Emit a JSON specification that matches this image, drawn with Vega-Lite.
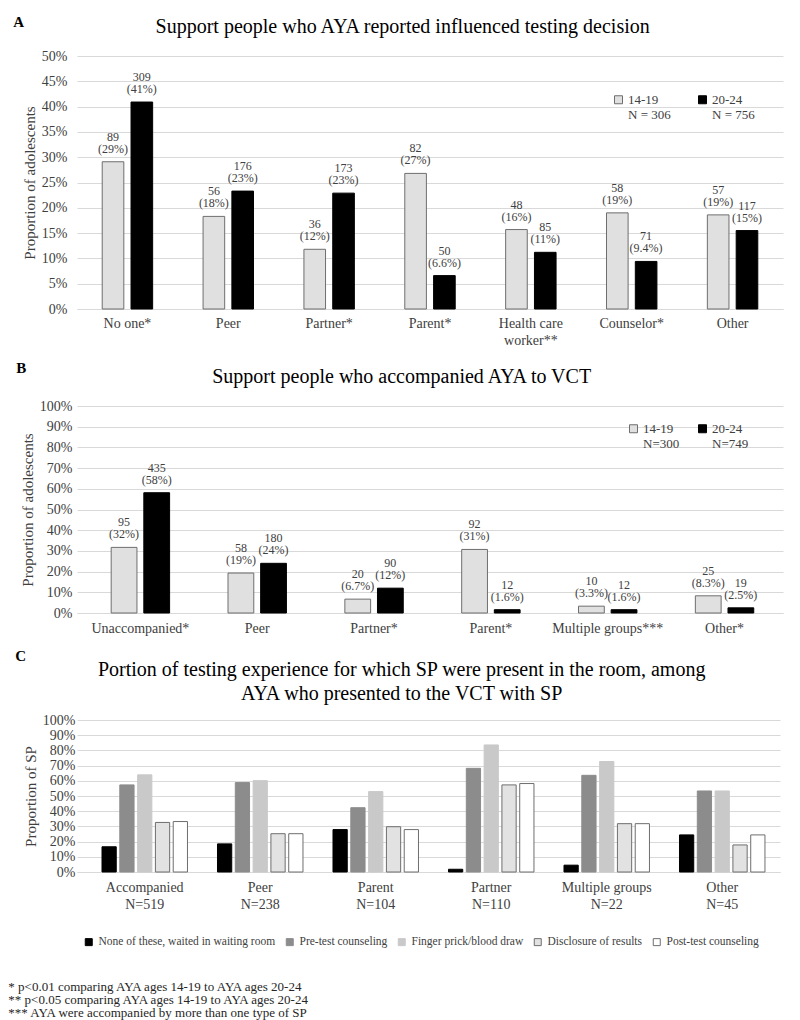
{
  "$schema": "https://vega.github.io/schema/vega-lite/v6.json",
  "padding": {"left": 8, "top": 15, "right": 10, "bottom": 5},
  "background": "white",
  "config": {
    "font": "Liberation Serif",
    "view": {"stroke": null},
    "axis": {"labelFont": "Liberation Serif", "titleFont": "Liberation Serif", "labelColor": "#404040", "titleColor": "#404040", "titleFontWeight": "normal", "gridColor": "#d9d9d9", "domainColor": "#d9d9d9", "ticks": false},
    "legend": {"labelFont": "Liberation Serif", "labelColor": "#404040"},
    "title": {"font": "Liberation Serif", "fontWeight": "normal", "color": "#000000"},
    "text": {"font": "Liberation Serif"}
  },
  "title": {
    "text": ["* p<0.01 comparing AYA ages 14-19 to AYA ages 20-24", "** p<0.05 comparing AYA ages 14-19 to AYA ages 20-24", "*** AYA were accompanied by more than one type of SP"],
    "orient": "bottom", "anchor": "start", "frame": "bounds", "fontSize": 13, "lineHeight": 13, "offset": 33, "dx": -5, "color": "#262626"
  },
  "columns": 1,
  "spacing": 14,
  "resolve": {"scale": {"fill": "independent", "stroke": "independent", "xOffset": "independent"}, "legend": {"fill": "independent", "stroke": "independent"}},
  "concat": [
    {
      "title": {"text": "A", "anchor": "start", "frame": "bounds", "fontWeight": "bold", "fontSize": 15, "offset": -13, "dx": -9},
      "vconcat": [
        {
          "width": 706,
          "height": 253,
          "title": {"text": "Support people who AYA reported influenced testing decision", "fontSize": 20, "anchor": "middle", "frame": "bounds", "offset": 12},
          "data": {"values": [
            {"cat": "No one*", "age": "14-19", "pct": 0.291, "lab": "89\n(29%)"},
            {"cat": "No one*", "age": "20-24", "pct": 0.409, "lab": "309\n(41%)"},
            {"cat": "Peer", "age": "14-19", "pct": 0.183, "lab": "56\n(18%)"},
            {"cat": "Peer", "age": "20-24", "pct": 0.233, "lab": "176\n(23%)"},
            {"cat": "Partner*", "age": "14-19", "pct": 0.118, "lab": "36\n(12%)"},
            {"cat": "Partner*", "age": "20-24", "pct": 0.229, "lab": "173\n(23%)"},
            {"cat": "Parent*", "age": "14-19", "pct": 0.268, "lab": "82\n(27%)"},
            {"cat": "Parent*", "age": "20-24", "pct": 0.066, "lab": "50\n(6.6%)"},
            {"cat": "Health care|worker**", "age": "14-19", "pct": 0.157, "lab": "48\n(16%)"},
            {"cat": "Health care|worker**", "age": "20-24", "pct": 0.112, "lab": "85\n(11%)"},
            {"cat": "Counselor*", "age": "14-19", "pct": 0.19, "lab": "58\n(19%)"},
            {"cat": "Counselor*", "age": "20-24", "pct": 0.094, "lab": "71\n(9.4%)"},
            {"cat": "Other", "age": "14-19", "pct": 0.186, "lab": "57\n(19%)"},
            {"cat": "Other", "age": "20-24", "pct": 0.155, "lab": "117\n(15%)"}
          ]},
          "encoding": {
            "x": {"field": "cat", "type": "nominal", "sort": null, "title": null, "scale": {"paddingInner": 0.5, "paddingOuter": 0.25},
                  "axis": {"labelAngle": 0, "labelFontSize": 14, "labelPadding": 7, "labelExpr": "split(datum.label, '|')", "labelLineHeight": 17}},
            "xOffset": {"field": "age", "type": "nominal", "scale": {"paddingInner": 0.25, "paddingOuter": 0}},
            "y": {"field": "pct", "type": "quantitative", "title": "Proportion of adolescents", "scale": {"domain": [0, 0.5]},
                  "axis": {"values": [0, 0.05, 0.1, 0.15, 0.2, 0.25, 0.3, 0.35, 0.4, 0.45, 0.5], "format": ".0%", "labelFontSize": 14, "labelPadding": 10, "domain": false, "titleFontSize": 15, "titlePadding": 4, "labelOverlap": false}}
          },
          "layer": [
            {
              "mark": {"type": "bar", "strokeWidth": 1},
              "encoding": {
                "fill": {"field": "age", "type": "nominal", "scale": {"domain": ["14-19", "20-24"], "range": ["#e0e0e0", "#000000"]},
                         "legend": {"title": null, "orient": "none", "legendX": 535, "legendY": 37, "direction": "horizontal", "columns": 2, "symbolType": "square", "symbolSize": 64, "labelFontSize": 13, "columnPadding": 25, "labelOffset": 3, "symbolStrokeColor": "#767676", "symbolStrokeWidth": 1,
                                    "labelExpr": "datum.label == '14-19' ? ['14-19', 'N = 306'] : ['20-24', 'N = 756']"}},
                "stroke": {"field": "age", "type": "nominal", "scale": {"domain": ["14-19", "20-24"], "range": ["#6e6e6e", "#000000"]}, "legend": null}
              }
            },
            {
              "mark": {"type": "text", "baseline": "bottom", "dy": -18, "fontSize": 12, "lineHeight": 12, "lineBreak": "\n", "color": "#404040"},
              "encoding": {"text": {"field": "lab"}}
            }
          ]
        }
      ]
    },
    {
      "title": {"text": "B", "anchor": "start", "frame": "bounds", "fontWeight": "bold", "fontSize": 15, "offset": -9, "dx": -4},
      "vconcat": [
        {
          "width": 706,
          "height": 207,
          "title": {"text": "Support people who accompanied AYA to VCT", "fontSize": 20, "anchor": "middle", "frame": "bounds", "offset": 12},
          "data": {"values": [
            {"cat": "Unaccompanied*", "age": "14-19", "pct": 0.317, "lab": "95\n(32%)"},
            {"cat": "Unaccompanied*", "age": "20-24", "pct": 0.581, "lab": "435\n(58%)"},
            {"cat": "Peer", "age": "14-19", "pct": 0.193, "lab": "58\n(19%)"},
            {"cat": "Peer", "age": "20-24", "pct": 0.24, "lab": "180\n(24%)"},
            {"cat": "Partner*", "age": "14-19", "pct": 0.067, "lab": "20\n(6.7%)"},
            {"cat": "Partner*", "age": "20-24", "pct": 0.12, "lab": "90\n(12%)"},
            {"cat": "Parent*", "age": "14-19", "pct": 0.307, "lab": "92\n(31%)"},
            {"cat": "Parent*", "age": "20-24", "pct": 0.016, "lab": "12\n(1.6%)"},
            {"cat": "Multiple groups***", "age": "14-19", "pct": 0.033, "lab": "10\n(3.3%)"},
            {"cat": "Multiple groups***", "age": "20-24", "pct": 0.016, "lab": "12\n(1.6%)"},
            {"cat": "Other*", "age": "14-19", "pct": 0.083, "lab": "25\n(8.3%)"},
            {"cat": "Other*", "age": "20-24", "pct": 0.025, "lab": "19\n(2.5%)"}
          ]},
          "encoding": {
            "x": {"field": "cat", "type": "nominal", "sort": null, "title": null, "scale": {"paddingInner": 0.5, "paddingOuter": 0.2714, "align": 0.539},
                  "axis": {"labelAngle": 0, "labelFontSize": 14, "labelPadding": 8}},
            "xOffset": {"field": "age", "type": "nominal", "scale": {"paddingInner": 0.21, "paddingOuter": 0}},
            "y": {"field": "pct", "type": "quantitative", "title": "Proportion of adolescents", "scale": {"domain": [0, 1]},
                  "axis": {"values": [0, 0.1, 0.2, 0.3, 0.4, 0.5, 0.6, 0.7, 0.8, 0.9, 1], "format": ".0%", "labelFontSize": 14, "labelPadding": 5, "domain": false, "titleFontSize": 15, "titlePadding": 4, "labelOverlap": false}}
          },
          "layer": [
            {
              "mark": {"type": "bar", "strokeWidth": 1},
              "encoding": {
                "fill": {"field": "age", "type": "nominal", "scale": {"domain": ["14-19", "20-24"], "range": ["#e0e0e0", "#000000"]},
                         "legend": {"title": null, "orient": "none", "legendX": 550, "legendY": 16, "direction": "horizontal", "columns": 2, "symbolType": "square", "symbolSize": 64, "labelFontSize": 13, "columnPadding": 16, "labelOffset": 3, "symbolStrokeColor": "#767676", "symbolStrokeWidth": 1,
                                    "labelExpr": "datum.label == '14-19' ? ['14-19', 'N=300'] : ['20-24', 'N=749']"}},
                "stroke": {"field": "age", "type": "nominal", "scale": {"domain": ["14-19", "20-24"], "range": ["#6e6e6e", "#000000"]}, "legend": null}
              }
            },
            {
              "mark": {"type": "text", "baseline": "bottom", "dy": -18, "fontSize": 12, "lineHeight": 12, "lineBreak": "\n", "color": "#404040"},
              "encoding": {"text": {"field": "lab"}}
            }
          ]
        }
      ]
    },
    {
      "title": {"text": "C", "anchor": "start", "frame": "bounds", "fontWeight": "bold", "fontSize": 15, "offset": -4, "dx": -8},
      "vconcat": [
        {
          "width": 703,
          "height": 152,
          "title": {"text": ["Portion of testing experience for which SP were present in the room, among", "AYA who presented to the VCT with SP"], "fontSize": 20, "lineHeight": 24, "anchor": "middle", "frame": "bounds", "offset": 9},
          "data": {"values": [
            {"grp": "Accompanied|N=519", "part": "None of these, waited in waiting room", "pct": 0.166},
            {"grp": "Accompanied|N=519", "part": "Pre-test counseling", "pct": 0.573},
            {"grp": "Accompanied|N=519", "part": "Finger prick/blood draw", "pct": 0.639},
            {"grp": "Accompanied|N=519", "part": "Disclosure of results", "pct": 0.326},
            {"grp": "Accompanied|N=519", "part": "Post-test counseling", "pct": 0.332},
            {"grp": "Peer|N=238", "part": "None of these, waited in waiting room", "pct": 0.185},
            {"grp": "Peer|N=238", "part": "Pre-test counseling", "pct": 0.588},
            {"grp": "Peer|N=238", "part": "Finger prick/blood draw", "pct": 0.601},
            {"grp": "Peer|N=238", "part": "Disclosure of results", "pct": 0.252},
            {"grp": "Peer|N=238", "part": "Post-test counseling", "pct": 0.252},
            {"grp": "Parent|N=104", "part": "None of these, waited in waiting room", "pct": 0.279},
            {"grp": "Parent|N=104", "part": "Pre-test counseling", "pct": 0.423},
            {"grp": "Parent|N=104", "part": "Finger prick/blood draw", "pct": 0.529},
            {"grp": "Parent|N=104", "part": "Disclosure of results", "pct": 0.298},
            {"grp": "Parent|N=104", "part": "Post-test counseling", "pct": 0.279},
            {"grp": "Partner|N=110", "part": "None of these, waited in waiting room", "pct": 0.018},
            {"grp": "Partner|N=110", "part": "Pre-test counseling", "pct": 0.682},
            {"grp": "Partner|N=110", "part": "Finger prick/blood draw", "pct": 0.836},
            {"grp": "Partner|N=110", "part": "Disclosure of results", "pct": 0.573},
            {"grp": "Partner|N=110", "part": "Post-test counseling", "pct": 0.582},
            {"grp": "Multiple groups|N=22", "part": "None of these, waited in waiting room", "pct": 0.045},
            {"grp": "Multiple groups|N=22", "part": "Pre-test counseling", "pct": 0.636},
            {"grp": "Multiple groups|N=22", "part": "Finger prick/blood draw", "pct": 0.727},
            {"grp": "Multiple groups|N=22", "part": "Disclosure of results", "pct": 0.318},
            {"grp": "Multiple groups|N=22", "part": "Post-test counseling", "pct": 0.318},
            {"grp": "Other|N=45", "part": "None of these, waited in waiting room", "pct": 0.244},
            {"grp": "Other|N=45", "part": "Pre-test counseling", "pct": 0.533},
            {"grp": "Other|N=45", "part": "Finger prick/blood draw", "pct": 0.533},
            {"grp": "Other|N=45", "part": "Disclosure of results", "pct": 0.178},
            {"grp": "Other|N=45", "part": "Post-test counseling", "pct": 0.244}
          ]},
          "mark": {"type": "bar", "strokeWidth": 1},
          "encoding": {
            "x": {"field": "grp", "type": "nominal", "sort": null, "title": null, "scale": {"paddingInner": 0.26, "paddingOuter": 0.1733, "align": 0.6245},
                  "axis": {"labelAngle": 0, "labelFontSize": 14, "labelPadding": 8, "labelExpr": "split(datum.label, '|')", "labelLineHeight": 17}},
            "xOffset": {"field": "part", "type": "nominal", "sort": null, "scale": {"paddingInner": 0.2, "paddingOuter": 0}},
            "y": {"field": "pct", "type": "quantitative", "title": "Proportion of SP", "scale": {"domain": [0, 1]},
                  "axis": {"values": [0, 0.1, 0.2, 0.3, 0.4, 0.5, 0.6, 0.7, 0.8, 0.9, 1], "format": ".0%", "labelFontSize": 14, "labelPadding": 2, "domain": false, "titleFontSize": 15, "titlePadding": 4, "labelOverlap": false}},
            "fill": {"field": "part", "type": "nominal",
                     "scale": {"domain": ["None of these, waited in waiting room", "Pre-test counseling", "Finger prick/blood draw", "Disclosure of results", "Post-test counseling"], "range": ["#000000", "#8c8c8c", "#c9c9c9", "#e2e2e2", "#ffffff"]},
                     "legend": {"title": null, "orient": "none", "legendX": 6, "legendY": 216, "direction": "horizontal", "symbolType": "square", "symbolSize": 49, "labelFontSize": 11.5, "labelLimit": 400, "columnPadding": 8, "labelOffset": 4, "symbolStrokeWidth": 1}},
            "stroke": {"field": "part", "type": "nominal",
                     "scale": {"domain": ["None of these, waited in waiting room", "Pre-test counseling", "Finger prick/blood draw", "Disclosure of results", "Post-test counseling"], "range": ["#000000", "#8c8c8c", "#c9c9c9", "#6e6e6e", "#6e6e6e"]},
                     "legend": {"title": null, "orient": "none", "legendX": 6, "legendY": 216, "direction": "horizontal", "symbolType": "square", "symbolSize": 49, "labelFontSize": 11.5, "labelLimit": 400, "columnPadding": 8, "labelOffset": 4, "symbolStrokeWidth": 1}}
          }
        }
      ]
    }
  ]
}
